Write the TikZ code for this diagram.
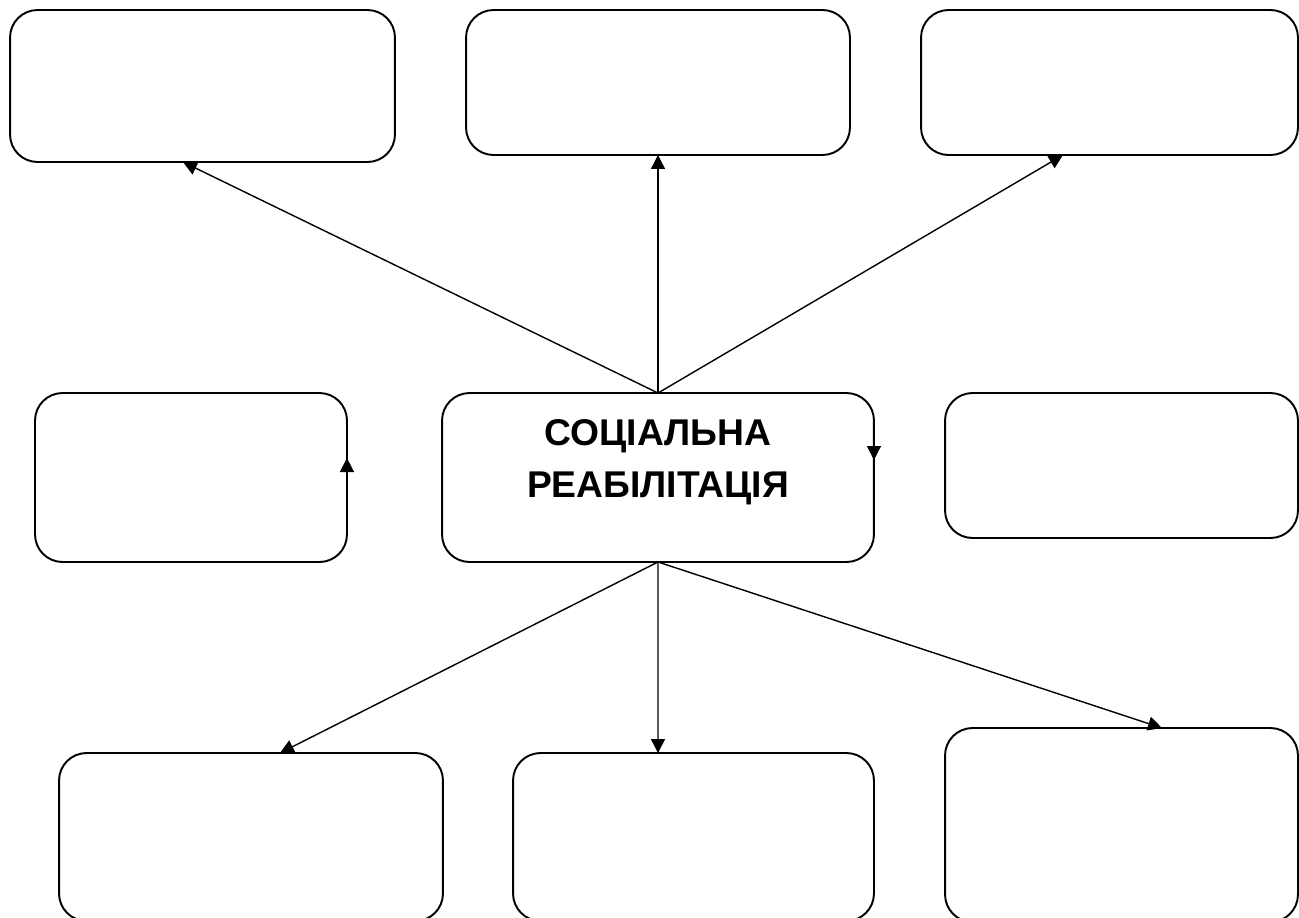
\documentclass[tikz,border=0pt]{standalone}
\usepackage{fontspec}
\setmainfont{Liberation Sans}
\usetikzlibrary{arrows.meta}
\tikzset{
	box/.style={draw,rectangle,rounded corners=0.55cm,line width=1.1pt,inner sep=0pt,outer sep=0pt},
	title/.style={align=center,inner sep=0pt,font=\fontsize{21.2}{29.6}\selectfont\bfseries},
	>={Triangle[length=0.28cm,width=0.28cm]}
}
\begin{document}
\begin{tikzpicture}[x=0.02cm,y=-0.02cm,line width=0.8pt]
			\path[use as bounding box,clip] (0,0) rectangle (1299,917);
			\node[box,minimum width=7.7cm,minimum height=3.04cm] (tl) at (202.5,86) {};
			\node[box,minimum width=7.68cm,minimum height=2.9cm] (tm) at (658,82.5) {};
			\node[box,minimum width=7.54cm,minimum height=2.9cm] (tr) at (1109.5,82.5) {};
			\node[box,minimum width=6.24cm,minimum height=3.38cm] (ml) at (191,477.5) {};
			\node[box,minimum width=8.64cm,minimum height=3.38cm] (soc) at (658,477.5) {};
			\node[box,minimum width=7.06cm,minimum height=2.9cm] (mr) at (1121.5,465.5) {};
			\node[box,minimum width=7.68cm,minimum height=3.36cm] (bl) at (251,837) {};
			\node[box,minimum width=7.22cm,minimum height=3.36cm] (bm) at (693.5,837) {};
			\node[box,minimum width=7.06cm,minimum height=3.88cm] (br) at (1121.5,825) {};
			\node[title] (lbl) at (658,462) {СОЦІАЛЬНА\\РЕАБІЛІТАЦІЯ};
			
			\draw[->] (soc.north) -- ([xshift=-0.39cm]tl.south);
			\draw[->] (soc.north) -- (tm.south);
			\draw[->] (soc.north) -- ([xshift=-0.93cm]tr.south);
			\draw[->] (soc.south) -- ([xshift=0.58cm]bl.north);
			\draw[->] (soc.south) -- ([xshift=-0.71cm]bm.north);
			\draw[->] (soc.south) -- ([xshift=0.81cm]br.north);
			\draw[->] ([yshift=-1cm]ml.east) -- ([yshift=0.39cm]ml.east);
			\draw[->] ([yshift=1.1cm]soc.east) -- ([yshift=0.35cm]soc.east);
		\end{tikzpicture}
\end{document}
